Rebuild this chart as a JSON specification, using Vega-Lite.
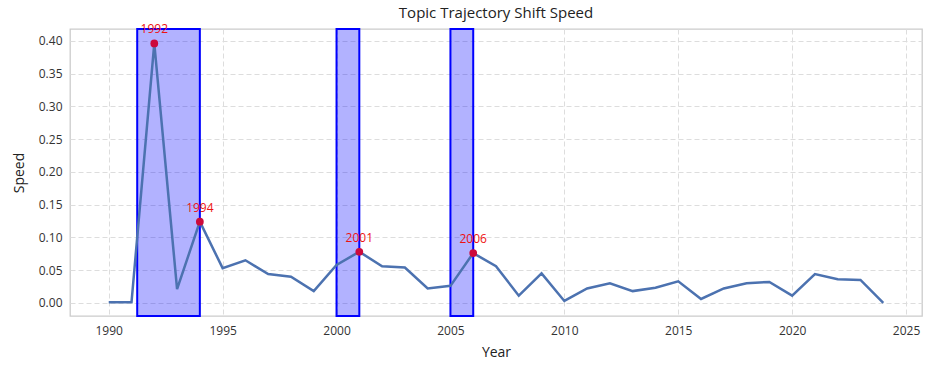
{
  "$schema": "https://vega.github.io/schema/vega-lite/v6.json",
  "width": 852,
  "height": 287,
  "autosize": {"type": "none"},
  "padding": {"left": 70, "top": 29, "right": 11, "bottom": 52},
  "background": "white",
  "title": {"text": "Topic Trajectory Shift Speed", "fontSize": 15, "fontWeight": "normal", "font": "Open Sans", "color": "#222222", "offset": 2},
  "config": {
    "view": {"stroke": "#cccccc", "strokeWidth": 1.3},
    "axis": {"labelFont": "Open Sans", "titleFont": "Open Sans", "labelFontSize": 12, "titleFontSize": 14, "titleFontWeight": "normal", "labelColor": "#333333", "titleColor": "#222222", "domain": false, "ticks": false, "gridColor": "#dddddd", "gridDash": [5, 3], "gridWidth": 1}
  },
  "datasets": {
    "series": [
      {"year": 1990, "speed": 0.001}, {"year": 1991, "speed": 0.001}, {"year": 1992, "speed": 0.396},
      {"year": 1993, "speed": 0.021}, {"year": 1994, "speed": 0.124}, {"year": 1995, "speed": 0.053},
      {"year": 1996, "speed": 0.065}, {"year": 1997, "speed": 0.044}, {"year": 1998, "speed": 0.040},
      {"year": 1999, "speed": 0.018}, {"year": 2000, "speed": 0.058}, {"year": 2001, "speed": 0.078},
      {"year": 2002, "speed": 0.056}, {"year": 2003, "speed": 0.054}, {"year": 2004, "speed": 0.022},
      {"year": 2005, "speed": 0.026}, {"year": 2006, "speed": 0.076}, {"year": 2007, "speed": 0.056},
      {"year": 2008, "speed": 0.011}, {"year": 2009, "speed": 0.045}, {"year": 2010, "speed": 0.003},
      {"year": 2011, "speed": 0.022}, {"year": 2012, "speed": 0.030}, {"year": 2013, "speed": 0.018},
      {"year": 2014, "speed": 0.023}, {"year": 2015, "speed": 0.033}, {"year": 2016, "speed": 0.006},
      {"year": 2017, "speed": 0.022}, {"year": 2018, "speed": 0.030}, {"year": 2019, "speed": 0.032},
      {"year": 2020, "speed": 0.011}, {"year": 2021, "speed": 0.044}, {"year": 2022, "speed": 0.036},
      {"year": 2023, "speed": 0.035}, {"year": 2024, "speed": 0.0}
    ],
    "peaks": [
      {"year": 1992, "speed": 0.396, "label": "1992"},
      {"year": 1994, "speed": 0.124, "label": "1994"},
      {"year": 2001, "speed": 0.078, "label": "2001"},
      {"year": 2006, "speed": 0.076, "label": "2006"}
    ],
    "spans": [
      {"start": 1991.25, "end": 1994},
      {"start": 2000, "end": 2001},
      {"start": 2005, "end": 2006}
    ]
  },
  "layer": [
    {
      "data": {"name": "spans"},
      "mark": {"type": "rect", "fill": "#0000ff", "fillOpacity": 0.3, "stroke": "#0000ff", "strokeWidth": 2},
      "encoding": {
        "x": {"field": "start", "type": "quantitative", "scale": {"domain": [1988.3, 2025.7], "nice": false, "zero": false}, "axis": {"title": "Year", "values": [1990, 1995, 2000, 2005, 2010, 2015, 2020, 2025], "format": "d", "labelPadding": 9, "titlePadding": 9}},
        "x2": {"field": "end"}
      }
    },
    {
      "data": {"name": "series"},
      "mark": {"type": "line", "color": "#4c72b0", "strokeWidth": 2.5},
      "encoding": {
        "x": {"field": "year", "type": "quantitative"},
        "y": {"field": "speed", "type": "quantitative", "scale": {"domain": [-0.02, 0.418], "nice": false, "zero": false}, "axis": {"title": "Speed", "values": [0, 0.05, 0.1, 0.15, 0.2, 0.25, 0.3, 0.35, 0.4], "format": ".2f", "labelPadding": 8, "titlePadding": 12, "labelOverlap": false}}
      }
    },
    {
      "data": {"name": "peaks"},
      "mark": {"type": "circle", "color": "#cc0a3c", "opacity": 1, "size": 60},
      "encoding": {
        "x": {"field": "year", "type": "quantitative"},
        "y": {"field": "speed", "type": "quantitative", "axis": {"title": "Speed", "values": [0, 0.05, 0.1, 0.15, 0.2, 0.25, 0.3, 0.35, 0.4], "format": ".2f", "labelPadding": 8, "titlePadding": 12, "labelOverlap": false}}
      }
    },
    {
      "data": {"name": "peaks"},
      "mark": {"type": "text", "color": "#ee1111", "fontSize": 12, "font": "Open Sans", "baseline": "middle", "dy": -14},
      "encoding": {
        "x": {"field": "year", "type": "quantitative"},
        "y": {"field": "speed", "type": "quantitative", "axis": {"title": "Speed", "values": [0, 0.05, 0.1, 0.15, 0.2, 0.25, 0.3, 0.35, 0.4], "format": ".2f", "labelPadding": 8, "titlePadding": 12, "labelOverlap": false}},
        "text": {"field": "label"}
      }
    }
  ]
}
